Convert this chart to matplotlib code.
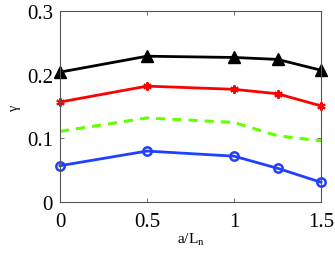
import matplotlib
matplotlib.use('Agg')
import matplotlib.pyplot as plt

# data
a_ln = [0, 0.5, 1, 1.25, 1.5]
gam_black = [0.204, 0.229, 0.227, 0.224, 0.207]
gam_red = [0.157, 0.182, 0.177, 0.170, 0.151]
gam_green = [0.111, 0.132, 0.125, 0.104, 0.096]
gam_blue = [0.057, 0.080, 0.072, 0.053, 0.031]

xticks = [0, 0.5, 1, 1.5]
yticks = [0, 0.1, 0.2, 0.3]

plt.rcParams['font.family'] = ['Liberation Serif', 'DejaVu Serif']

fig = plt.figure(figsize=(3.35, 2.55), dpi=100)
ax = fig.add_axes([60 / 335, 1 - 203 / 255, 261 / 335, 191 / 255])

ax.plot(a_ln, gam_black, color='k', lw=2, marker='^', ms=8)
ax.plot(a_ln, gam_red, color='#ff0000', lw=2, marker=(6, 2, 0), ms=6, mew=1.5)
ax.plot(a_ln, gam_green, color='#66ff00', lw=2.2, ls=(0, (3, 2.3)))
ax.plot(a_ln, gam_blue, color='#2040ff', lw=2, marker='o', ms=6, mew=1.8,
        mfc='none')

ax.set_xlim(0, 1.5)
ax.set_ylim(0, 0.3)
ax.set_xticks(xticks)
ax.set_xticklabels(['0', '0.5', '1', '1.5'])
ax.set_yticks(yticks)
ax.set_yticklabels(['0', '0.1', '0.2', '0.3'])
ax.tick_params(direction='in', top=True, right=True, labelsize=15,
               length=3, width=0.6, color='#555555')
ax.tick_params(axis='x', pad=7)
ax.tick_params(axis='y', pad=5)
for s in ax.spines.values():
    s.set_color('#555555')
    s.set_linewidth(0.8)
for l in ax.get_lines():
    l.set_clip_on(False)

ax.set_xlabel(r'a/L$_\mathregular{n}$', fontsize=11, labelpad=0)
ax.set_ylabel('\u03b3', fontsize=10, rotation=90, labelpad=4)

fig.savefig('out.png', dpi=100)
